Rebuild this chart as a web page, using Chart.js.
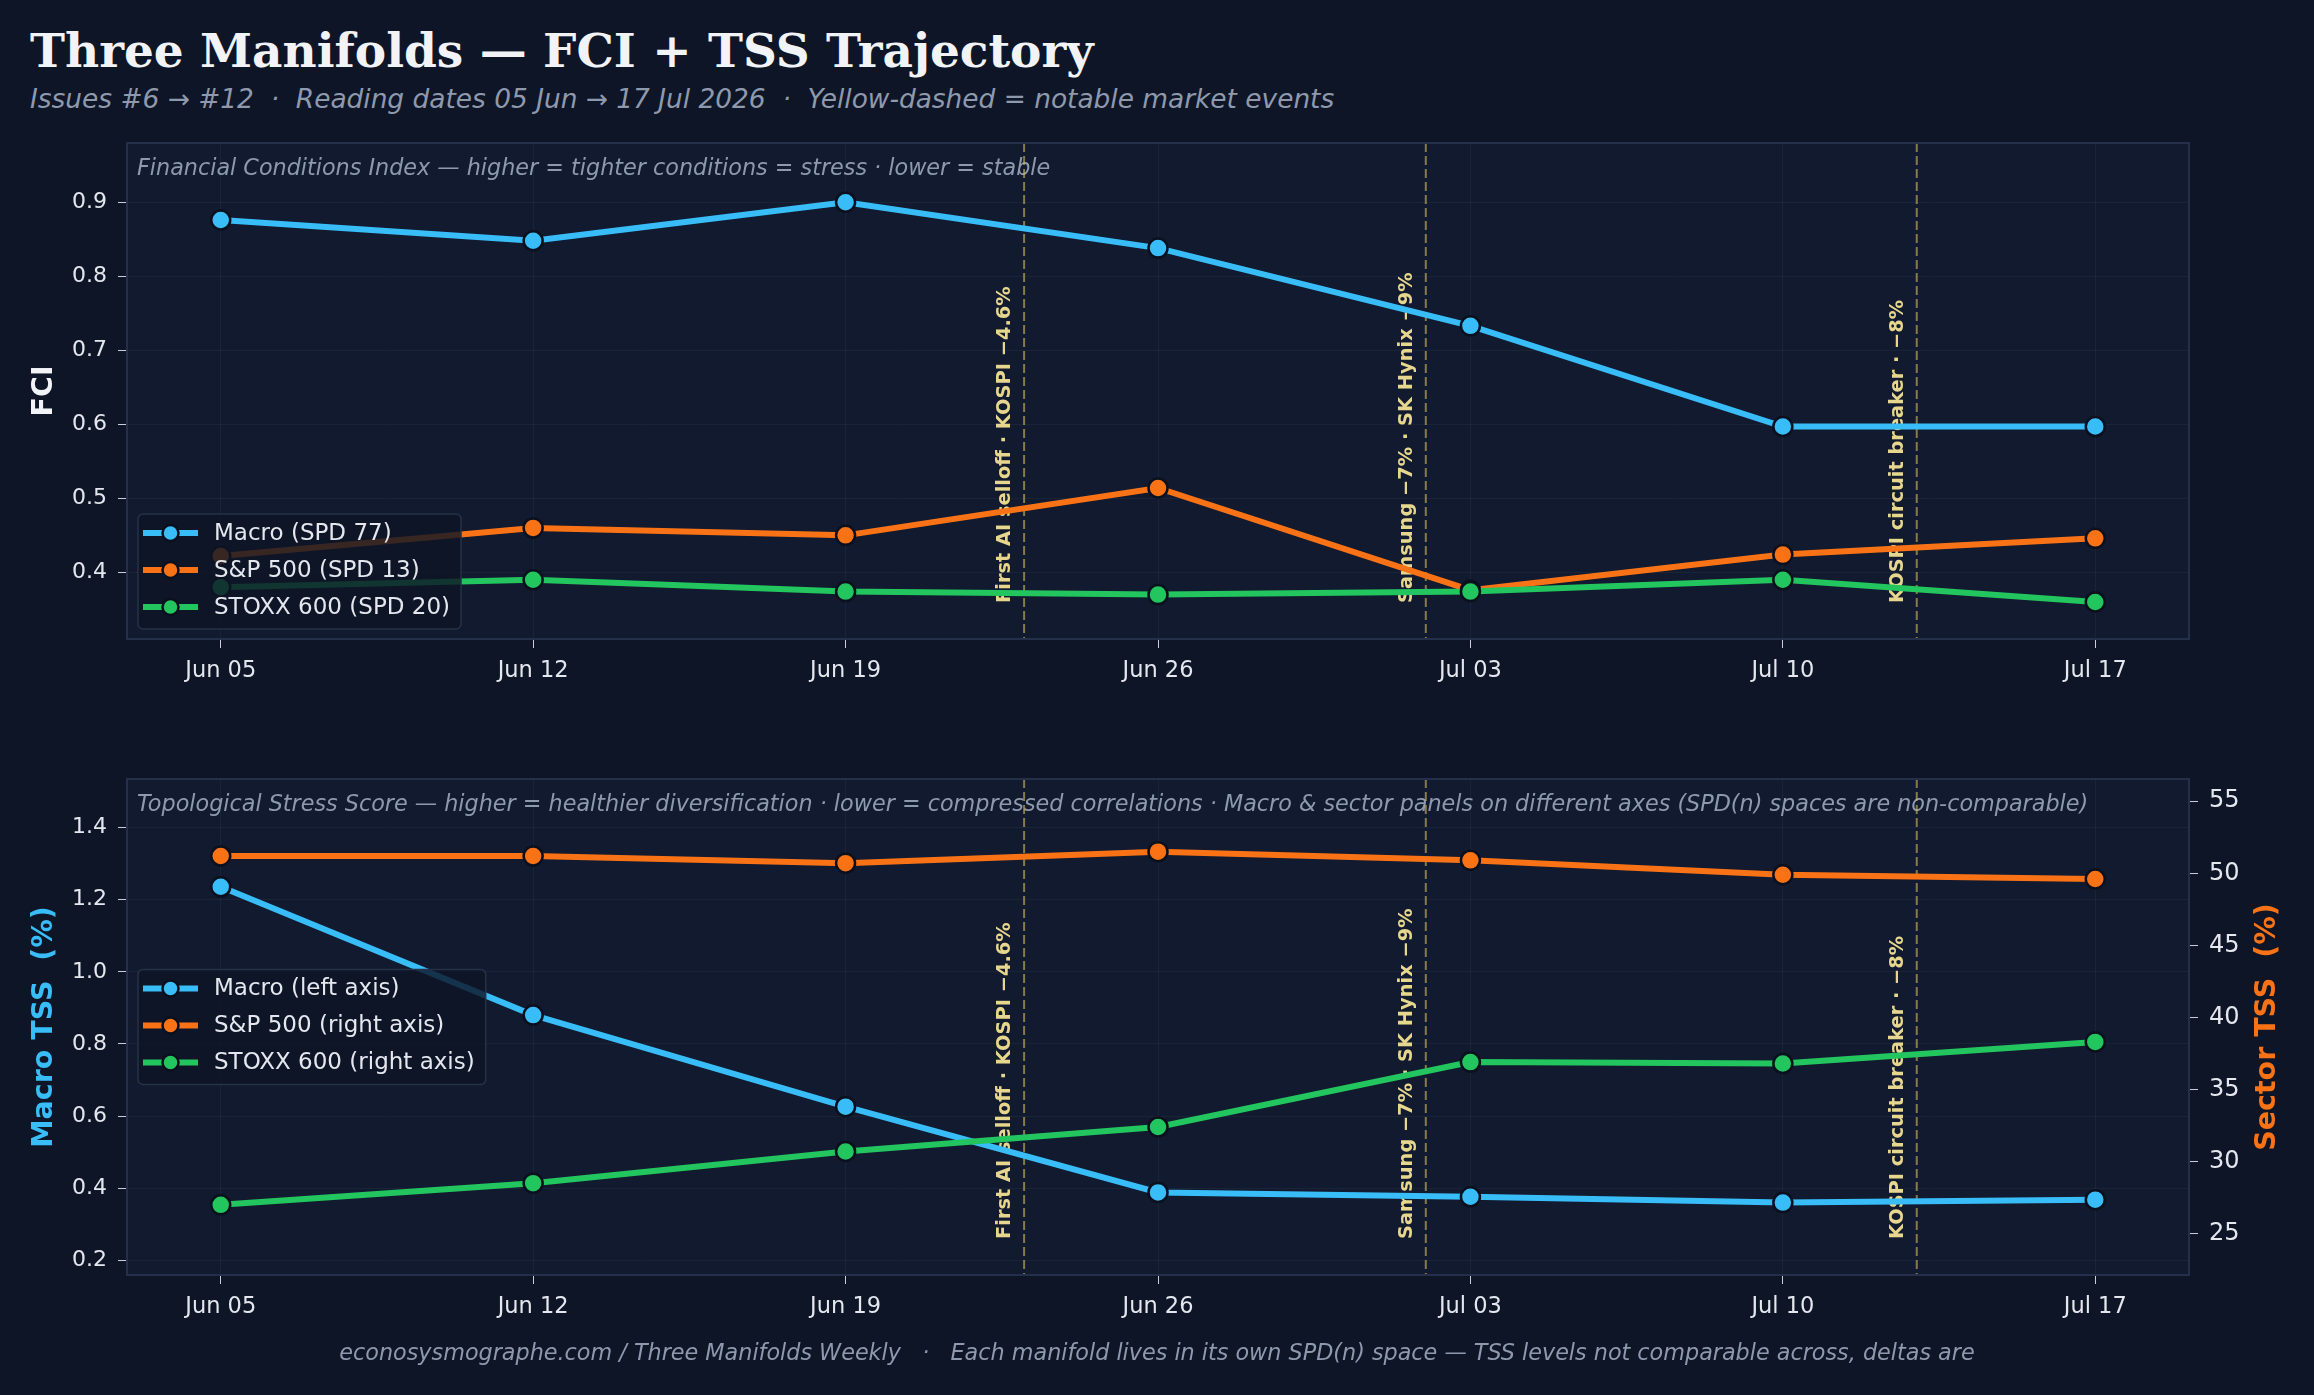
<!DOCTYPE html>
<html>
<head>
<meta charset="utf-8">
<title>Three Manifolds - FCI + TSS Trajectory</title>
<script src="https://cdn.jsdelivr.net/npm/chart.js@4.4.1/dist/chart.umd.min.js"></script>
<style>
html, body { margin: 0; padding: 0; background: #0d1526; }
body { width: 2314px; height: 1395px; position: relative; overflow: hidden; font-family: "DejaVu Sans", sans-serif; }
#title { position: absolute; left: 30px; top: 27px; font: bold 47px/1 "DejaVu Serif", serif; color: #f1f3f7; white-space: pre; }
#subtitle { position: absolute; left: 30px; top: 86px; font: italic 26.4px/1 "DejaVu Sans", sans-serif; color: #8f99ad; white-space: pre; }
#footer { position: absolute; left: 0; width: 2314px; top: 1341px; text-align: center; font: italic 22.3px/1 "DejaVu Sans", sans-serif; color: #8f99ad; white-space: pre; }
canvas { position: absolute; left: 0; }
#fciChart { top: 130px; }
#tssChart { top: 760px; }
</style>
</head>
<body>
<div id="title">Three Manifolds — FCI + TSS Trajectory</div>
<div id="subtitle">Issues #6 → #12  ·  Reading dates 05 Jun → 17 Jul 2026  ·  Yellow-dashed = notable market events</div>
<canvas id="fciChart" width="2314" height="600"></canvas>
<canvas id="tssChart" width="2314" height="600"></canvas>
<div id="footer">econosysmographe.com / Three Manifolds Weekly   ·   Each manifold lives in its own SPD(n) space — TSS levels not comparable across, deltas are</div>

<script>
// reading dates, as day offsets from 05 Jun
const dayOffsets = [0, 7, 14, 21, 28, 35, 42];
const dateLabels = ['Jun 05', 'Jun 12', 'Jun 19', 'Jun 26', 'Jul 03', 'Jul 10', 'Jul 17'];

// FCI panel
const fciMacro = [0.876, 0.848, 0.900, 0.838, 0.733, 0.597, 0.597];
const fciSP = [0.422, 0.460, 0.450, 0.514, 0.376, 0.424, 0.446];
const fciStoxx = [0.380, 0.390, 0.374, 0.370, 0.374, 0.390, 0.360];
const fciTicks = [0.4, 0.5, 0.6, 0.7, 0.8, 0.9];

// TSS panel (macro on left axis, sectors on right axis)
const tssMacro = [1.236, 0.880, 0.626, 0.388, 0.376, 0.360, 0.368];
const tssSP = [51.2, 51.2, 50.7, 51.5, 50.9, 49.9, 49.6];
const tssStoxx = [27.0, 28.5, 30.7, 32.4, 36.9, 36.8, 38.3];
const tssLeftTicks = [0.2, 0.4, 0.6, 0.8, 1.0, 1.2, 1.4];
const tssRightTicks = [25, 30, 35, 40, 45, 50, 55];

// market events
const eventDays = [18, 27, 38];
const eventLabels = ['First AI selloff · KOSPI −4.6%', 'Samsung −7% · SK Hynix −9%', 'KOSPI circuit breaker · −8%'];

const COLORS = { macro: '#38bdf8', sp: '#f97316', stoxx: '#22c55e' };
const TEXT = '#e4e7ee';
const GRID = 'rgba(148, 163, 184, 0.07)';
const TICK = '#c9ced8';
const FONT = '"DejaVu Sans", sans-serif';

function series(label, color, values, axis, order) {
    return {
        label: label,
        data: values.map((v, i) => ({ x: dayOffsets[i], y: v })),
        borderColor: color,
        backgroundColor: color,
        pointBackgroundColor: color,
        pointBorderColor: '#0a101d',
        pointBorderWidth: 2.5,
        pointRadius: 9.5,
        pointHoverRadius: 9.5,
        borderWidth: 6,
        tension: 0,
        yAxisID: axis,
        order: order
    };
}

function drawLegend(ctx, chart, mode) {
    const area = chart.chartArea;
    const rowH = 37;
    ctx.save();
    ctx.font = '23px ' + FONT;
    const items = chart.data.datasets;
    let textW = 0;
    items.forEach(d => { textW = Math.max(textW, ctx.measureText(d.label).width); });
    const w = 76 + textW + 11;
    const h = rowH * 2 + 41;
    const x = area.left + 11;
    const y = mode === 'lower' ? area.bottom - 10 - h : (area.top + area.bottom) / 2 - h / 2;

    ctx.fillStyle = 'rgba(14, 21, 38, 0.82)';
    ctx.strokeStyle = '#263249';
    ctx.lineWidth = 1.5;
    ctx.beginPath();
    ctx.roundRect(x, y, w, h, 5);
    ctx.fill();
    ctx.stroke();

    items.forEach((d, i) => {
        const cy = y + 19 + i * rowH;
        ctx.strokeStyle = d.borderColor;
        ctx.lineWidth = 6;
        ctx.beginPath();
        ctx.moveTo(x + 5, cy);
        ctx.lineTo(x + 60, cy);
        ctx.stroke();
        ctx.beginPath();
        ctx.arc(x + 32.5, cy, 8, 0, Math.PI * 2);
        ctx.fillStyle = d.borderColor;
        ctx.fill();
        ctx.lineWidth = 2.5;
        ctx.strokeStyle = '#0a101d';
        ctx.stroke();
        ctx.fillStyle = TEXT;
        ctx.textBaseline = 'middle';
        ctx.textAlign = 'left';
        ctx.fillText(d.label, x + 76, cy + 1);
    });
    ctx.restore();
}

function panelPlugin(note, legendMode, rightTitle) {
    return {
        id: 'panel',
        beforeDraw(chart) {
            const { ctx, chartArea: a } = chart;
            ctx.save();
            ctx.fillStyle = '#111a2e';
            ctx.fillRect(a.left, a.top, a.right - a.left, a.bottom - a.top);
            ctx.restore();
        },
        beforeDatasetsDraw(chart) {
            const { ctx, chartArea: a } = chart;
            const xs = chart.scales.x;
            ctx.save();
            // note line
            ctx.font = 'italic 22.3px ' + FONT;
            ctx.fillStyle = '#8f99ad';
            ctx.textBaseline = 'middle';
            ctx.fillText(note, a.left + 10, a.top + 26);
            // event markers
            eventDays.forEach((d, i) => {
                const px = xs.getPixelForValue(d);
                ctx.strokeStyle = 'rgba(214, 190, 92, 0.6)';
                ctx.lineWidth = 2;
                ctx.setLineDash([9, 4]);
                ctx.beginPath();
                ctx.moveTo(px, a.top);
                ctx.lineTo(px, a.bottom);
                ctx.stroke();
                ctx.setLineDash([]);
                ctx.save();
                ctx.translate(px - 19, a.bottom - 36);
                ctx.rotate(-Math.PI / 2);
                ctx.font = 'bold 19.4px ' + FONT;
                ctx.fillStyle = '#e6d68e';
                ctx.textAlign = 'left';
                ctx.textBaseline = 'middle';
                ctx.fillText(eventLabels[i], 0, 0);
                ctx.restore();
            });
            ctx.restore();
        },
        afterDatasetsDraw(chart) {
            const { ctx, chartArea: a } = chart;
            drawLegend(ctx, chart, legendMode);
            ctx.save();
            ctx.strokeStyle = '#243049';
            ctx.lineWidth = 2;
            ctx.strokeRect(a.left, a.top, a.right - a.left, a.bottom - a.top);
            if (rightTitle) {
                ctx.translate(chart.width - 46, (a.top + a.bottom) / 2);
                ctx.rotate(-Math.PI / 2);
                ctx.font = 'bold 28.5px ' + FONT;
                ctx.fillStyle = rightTitle.color;
                ctx.textAlign = 'center';
                ctx.textBaseline = 'middle';
                ctx.fillText(rightTitle.text, 0, 0);
            }
            ctx.restore();
        }
    };
}

function xAxis(height) {
    return {
        type: 'linear',
        min: -2.1,
        max: 44.1,
        afterBuildTicks: s => { s.ticks = dayOffsets.map(v => ({ value: v })); },
        ticks: {
            callback: (v, i) => dateLabels[i],
            color: TEXT,
            font: { family: FONT, size: 22.5 },
            padding: 10,
            maxRotation: 0,
            autoSkip: false
        },
        grid: { color: GRID, tickColor: TICK, tickLength: 9, lineWidth: 1 },
        border: { display: false },
        afterFit: s => { s.height = height; s.paddingLeft = 0; s.paddingRight = 0; }
    };
}

function yAxis(tickVals, min, max, fmt, position, width, title, size) {
    const ax = {
        type: 'linear',
        position: position,
        min: min,
        max: max,
        afterBuildTicks: s => { s.ticks = tickVals.map(v => ({ value: v })); },
        ticks: {
            callback: fmt,
            color: TEXT,
            font: { family: FONT, size: size },
            padding: 11
        },
        grid: { color: GRID, tickColor: TICK, tickLength: 9, lineWidth: 1, drawOnChartArea: position === 'left' },
        border: { display: false },
        afterFit: s => { s.width = width; s.paddingTop = 0; s.paddingBottom = 0; }
    };
    if (title) {
        ax.title = {
            display: true,
            text: title.text,
            color: title.color,
            font: { family: FONT, size: 28.5, weight: 'bold' },
            padding: { top: 27, bottom: 0 }
        };
    }
    return ax;
}

new Chart(document.getElementById('fciChart'), {
    type: 'line',
    data: {
        datasets: [
            series('Macro (SPD 77)', COLORS.macro, fciMacro, 'y', 2),
            series('S&P 500 (SPD 13)', COLORS.sp, fciSP, 'y', 1),
            series('STOXX 600 (SPD 20)', COLORS.stoxx, fciStoxx, 'y', 0)
        ]
    },
    options: {
        responsive: false,
        animation: false,
        layout: { padding: { top: 13, right: 125, bottom: 0, left: 0 } },
        plugins: { legend: { display: false }, tooltip: { enabled: false } },
        scales: {
            x: xAxis(91),
            y: yAxis(fciTicks, 0.31, 0.98, v => v.toFixed(1), 'left', 127, { text: 'FCI', color: '#f1f3f7' }, 22)
        }
    },
    plugins: [panelPlugin('Financial Conditions Index — higher = tighter conditions = stress · lower = stable', 'lower', null)]
});

new Chart(document.getElementById('tssChart'), {
    type: 'line',
    data: {
        datasets: [
            series('Macro (left axis)', COLORS.macro, tssMacro, 'y', 2),
            series('S&P 500 (right axis)', COLORS.sp, tssSP, 'y2', 1),
            series('STOXX 600 (right axis)', COLORS.stoxx, tssStoxx, 'y2', 0)
        ]
    },
    options: {
        responsive: false,
        animation: false,
        layout: { padding: { top: 19, right: 0, bottom: 0, left: 0 } },
        plugins: { legend: { display: false }, tooltip: { enabled: false } },
        scales: {
            x: xAxis(85),
            y: yAxis(tssLeftTicks, 0.159, 1.535, v => v.toFixed(1), 'left', 127, { text: 'Macro TSS  (%)', color: COLORS.macro }, 22),
            y2: yAxis(tssRightTicks, 22.13, 56.54, v => String(v), 'right', 125, null, 24)
        }
    },
    plugins: [panelPlugin('Topological Stress Score — higher = healthier diversification · lower = compressed correlations · Macro & sector panels on different axes (SPD(n) spaces are non-comparable)', 'center', { text: 'Sector TSS  (%)', color: COLORS.sp })]
});
</script>
</body>
</html>
